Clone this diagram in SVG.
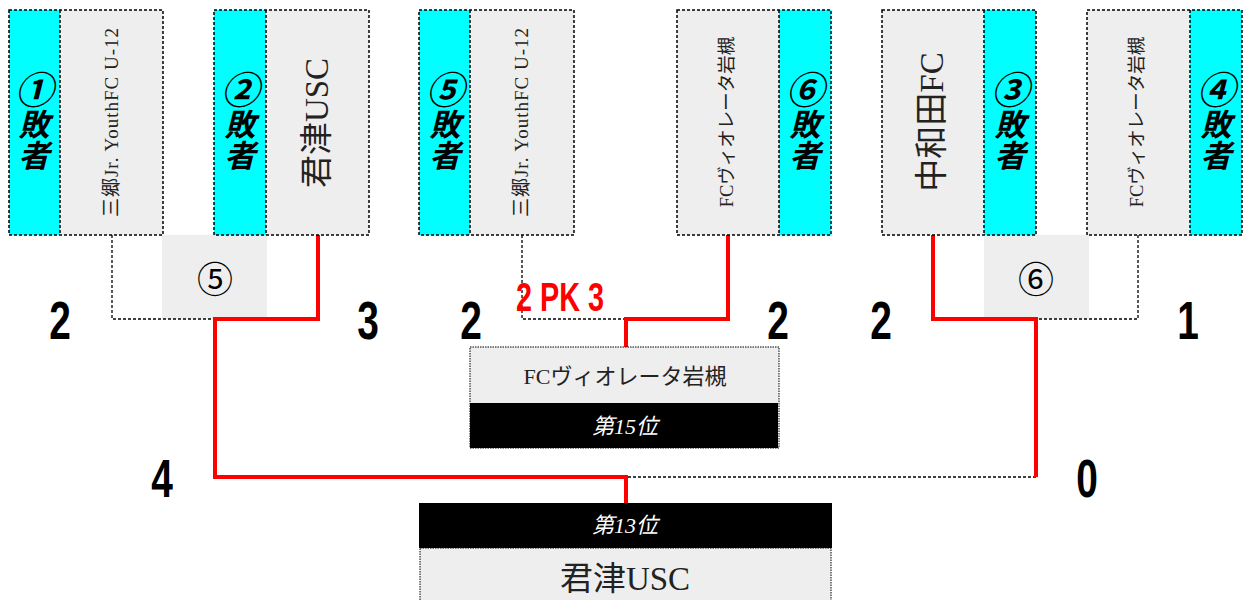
<svg xmlns="http://www.w3.org/2000/svg" width="1243" height="600" viewBox="0 0 1243 600">
<style>
.cy{fill:#00ffff}
.gr{fill:#eeeeee}
.bd{fill:none;stroke:#000;stroke-width:1.5;stroke-dasharray:3 2}
.fb{fill:none;stroke:#000;stroke-width:1;stroke-dasharray:1.5 1}
.dash{fill:none;stroke:#000;stroke-width:1.3;stroke-dasharray:3 2}
.red{fill:none;stroke:#ff0000;stroke-width:4}
.los{font-family:"Noto Sans CJK JP",sans-serif;font-weight:bold;font-style:italic;font-size:31px;text-anchor:middle;writing-mode:vertical-rl;fill:#000}
.ci{font-size:38px}
.nm{font-family:"Liberation Serif","Noto Sans CJK JP",serif;text-anchor:middle;dominant-baseline:central;fill:#222}
.sc{font-family:"Liberation Sans",Arial,sans-serif;font-weight:bold;font-size:54px;text-anchor:middle;fill:#000}
.pk{font-family:"Liberation Sans",Arial,sans-serif;font-weight:bold;font-size:40px;fill:#ff0000}
.mc{font-family:"Noto Sans CJK JP",sans-serif;font-size:36px;text-anchor:middle;dominant-baseline:central;fill:#000}
.rk{font-family:"Liberation Serif","Noto Sans CJK JP",serif;font-style:italic;font-size:22px;text-anchor:middle;fill:#fff}
</style>
<g id="match5">
<rect class="gr" x="162" y="235" width="105" height="84"/>
<text class="mc" x="215" y="277">⑤</text>
</g>
<g id="match6">
<rect class="gr" x="984" y="235" width="105" height="84"/>
<text class="mc" x="1036" y="277">⑥</text>
</g>
<g id="connectors">
<polyline class="dash" points="112,235 112,319 215,319"/>
<polyline class="dash" points="522,235 522,319 626,319"/>
<polyline class="dash" points="1138,235 1138,319 1036,319"/>
<polyline class="dash" points="1036,477 626,477"/>
<polyline class="red" points="318,235 318,319 215,319 215,477 626,477 626,505"/>
<polyline class="red" points="728,235 728,319 626,319 626,347"/>
<polyline class="red" points="933,235 933,319 1036,319 1036,477"/>
</g>
<g id="team1">
<rect class="cy" x="9" y="10" width="51" height="225"/>
<rect class="gr" x="60" y="10" width="103" height="225"/>
<rect class="bd" x="9" y="10" width="154" height="225"/>
<line class="bd" x1="60" y1="10" x2="60" y2="235"/>
<text class="los" x="34" y="121"><tspan class="ci">①</tspan>敗者</text>
<text class="nm" font-size="19" letter-spacing="1" transform="translate(111,122) rotate(-90)">三郷Jr. YouthFC U-12</text>
</g>
<g id="team2">
<rect class="cy" x="214" y="10" width="52" height="225"/>
<rect class="gr" x="266" y="10" width="103" height="225"/>
<rect class="bd" x="214" y="10" width="155" height="225"/>
<line class="bd" x1="266" y1="10" x2="266" y2="235"/>
<text class="los" x="240" y="121"><tspan class="ci">②</tspan>敗者</text>
<text class="nm" font-size="33" transform="translate(317,123) rotate(-90)">君津USC</text>
</g>
<g id="team3">
<rect class="cy" x="419" y="10" width="51" height="225"/>
<rect class="gr" x="470" y="10" width="104" height="225"/>
<rect class="bd" x="419" y="10" width="155" height="225"/>
<line class="bd" x1="470" y1="10" x2="470" y2="235"/>
<text class="los" x="445" y="121"><tspan class="ci">⑤</tspan>敗者</text>
<text class="nm" font-size="19" letter-spacing="1" transform="translate(521,122) rotate(-90)">三郷Jr. YouthFC U-12</text>
</g>
<g id="team4">
<rect class="gr" x="677" y="10" width="102" height="225"/>
<rect class="cy" x="779" y="10" width="52" height="225"/>
<rect class="bd" x="677" y="10" width="154" height="225"/>
<line class="bd" x1="779" y1="10" x2="779" y2="235"/>
<text class="los" x="805" y="121"><tspan class="ci">⑥</tspan>敗者</text>
<text class="nm" font-size="18.5" transform="translate(727,122) rotate(-90)">FCヴィオレータ岩槻</text>
</g>
<g id="team5">
<rect class="gr" x="882" y="10" width="102" height="225"/>
<rect class="cy" x="984" y="10" width="52" height="225"/>
<rect class="bd" x="882" y="10" width="154" height="225"/>
<line class="bd" x1="984" y1="10" x2="984" y2="235"/>
<text class="los" x="1010" y="121"><tspan class="ci">③</tspan>敗者</text>
<text class="nm" font-size="33" transform="translate(932,122) rotate(-90)">中和田FC</text>
</g>
<g id="team6">
<rect class="gr" x="1087" y="10" width="103" height="225"/>
<rect class="cy" x="1190" y="10" width="52" height="225"/>
<rect class="bd" x="1087" y="10" width="155" height="225"/>
<line class="bd" x1="1190" y1="10" x2="1190" y2="235"/>
<text class="los" x="1216" y="121"><tspan class="ci">④</tspan>敗者</text>
<text class="nm" font-size="18.5" transform="translate(1137,122) rotate(-90)">FCヴィオレータ岩槻</text>
</g>
<g id="scores">
<text class="sc" transform="translate(60,339) scale(0.72,1)">2</text>
<text class="sc" transform="translate(368,339) scale(0.72,1)">3</text>
<text class="sc" transform="translate(471,339) scale(0.72,1)">2</text>
<text class="sc" transform="translate(778,339) scale(0.72,1)">2</text>
<text class="sc" transform="translate(881,339) scale(0.72,1)">2</text>
<text class="sc" transform="translate(1188,339) scale(0.72,1)">1</text>
<text class="sc" transform="translate(162,497) scale(0.72,1)">4</text>
<text class="sc" transform="translate(1087,497) scale(0.72,1)">0</text>
<text class="pk" transform="translate(516,311) scale(0.72,1)">2 PK 3</text>
</g>
<g id="rank15">
<rect class="gr" x="470" y="347" width="309" height="56"/>
<rect x="470" y="403" width="308" height="45" fill="#000"/>
<rect class="fb" x="470" y="347" width="309" height="101"/>
<text class="nm" font-size="22" x="625" y="376" fill="#000">FCヴィオレータ岩槻</text>
<text class="rk" x="625" y="434">第15位</text>
</g>
<g id="rank13">
<rect x="419" y="503" width="413" height="45" fill="#000"/>
<rect class="gr" x="420" y="548" width="411" height="52"/>
<rect class="fb" x="420" y="548" width="411" height="55"/>
<text class="rk" x="625" y="533">第13位</text>
<text class="nm" font-size="33" x="625" y="579" fill="#000">君津USC</text>
</g>
</svg>
